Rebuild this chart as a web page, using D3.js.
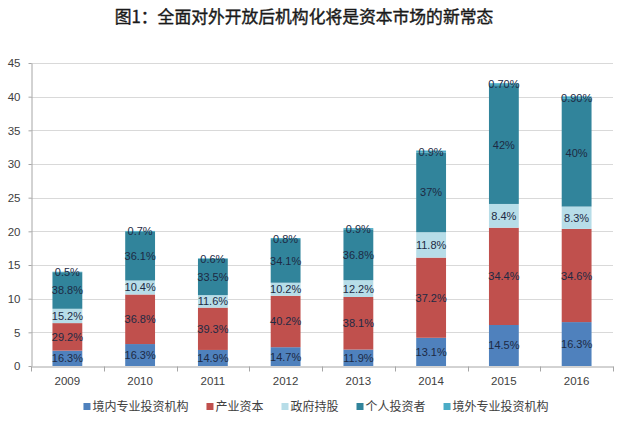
<!DOCTYPE html>
<html>
<head>
<meta charset="utf-8">
<script src="https://cdn.jsdelivr.net/npm/d3@7/dist/d3.min.js"></script>
<style>
  body { margin: 0; background: #fff; }
  svg { display: block; }
</style>
</head>
<body>
<div id="chart"></div>
<script>
// chart data
var years = ["2009", "2010", "2011", "2012", "2013", "2014", "2015", "2016"];
// bar totals (left axis)
var totals = [14, 20, 16, 19, 20.5, 32, 42, 40];
// share of each holder type in the total, in %
var series = ["境内专业投资机构", "产业资本", "政府持股", "个人投资者", "境外专业投资机构"];
var domesticInst = [16.3, 16.3, 14.9, 14.7, 11.9, 13.1, 14.5, 16.3];
var industrial   = [29.2, 36.8, 39.3, 40.2, 38.1, 37.2, 34.4, 34.6];
var government   = [15.2, 10.4, 11.6, 10.2, 12.2, 11.8, 8.4, 8.3];
var individual   = [38.8, 36.1, 33.5, 34.1, 36.8, 37, 42, 40];
var foreignInst  = [0.5, 0.7, 0.6, 0.8, 0.9, 0.9, 0.70, 0.90];
// label text as printed on the chart
var foreignLabels = ["0.5%", "0.7%", "0.6%", "0.8%", "0.9%", "0.9%", "0.70%", "0.90%"];
var yTicks = [0, 5, 10, 15, 20, 25, 30, 35, 40, 45];

var colors = ["#4f81bd", "#c0504d", "#b7dde8", "#31849b", "#4bacc6"];
var shares = [domesticInst, industrial, government, individual, foreignInst];

var width = 640, height = 429;
var plotLeft = 31, plotRight = 613, plotTop = 63, plotBottom = 366;

var svg = d3.select("#chart").append("svg")
  .attr("width", width)
  .attr("height", height);

// title
svg.append("text")
  .attr("x", 304)
  .attr("y", 23)
  .attr("text-anchor", "middle")
  .style("font-family", "'Noto Sans CJK SC'")
  .style("font-size", "16.8px")
  .attr("fill", "#1a1a1a")
  .attr("stroke", "#1a1a1a")
  .attr("stroke-width", 0.4)
  .text("图1：全面对外开放后机构化将是资本市场的新常态");

var x = d3.scaleBand()
  .domain(years)
  .range([plotLeft, plotRight])
  .paddingInner(0.59)
  .paddingOuter(0.295);

var y = d3.scaleLinear()
  .domain([0, 45])
  .range([plotBottom, plotTop]);

// gridlines
svg.append("g")
  .selectAll("line")
  .data(yTicks.slice(1))
  .join("line")
  .attr("x1", plotLeft)
  .attr("x2", plotRight)
  .attr("y1", function(d) { return Math.round(y(d)) + 0.5; })
  .attr("y2", function(d) { return Math.round(y(d)) + 0.5; })
  .attr("stroke", "#d9d9d9");

// stack the segments: each segment = total * share
var rows = years.map(function(yr, i) {
  var row = { year: yr };
  series.forEach(function(s, k) { row[s] = totals[i] * shares[k][i] / 100; });
  return row;
});
var stacked = d3.stack().keys(series)(rows);

var groups = svg.append("g")
  .selectAll("g")
  .data(stacked)
  .join("g")
  .attr("fill", function(d, k) { return colors[k]; });

groups.selectAll("rect")
  .data(function(d) { return d; })
  .join("rect")
  .attr("x", function(d) { return x(d.data.year); })
  .attr("width", x.bandwidth())
  .attr("y", function(d) { return y(d[1]); })
  .attr("height", function(d) { return y(d[0]) - y(d[1]); });

// data labels
stacked.forEach(function(layer, k) {
  svg.append("g")
    .selectAll("text")
    .data(layer)
    .join("text")
    .attr("x", function(d) { return x(d.data.year) + x.bandwidth() / 2; })
    .attr("y", function(d) { return (y(d[0]) + y(d[1])) / 2 + 4; })
    .attr("text-anchor", "middle")
    .style("font-family", "'Liberation Sans', Arial, sans-serif")
    .style("font-size", "11px")
    .attr("fill", "#1d2a44")
    .text(function(d, i) {
      return k == 4 ? foreignLabels[i] : shares[k][i] + "%";
    });
});

// y axis
var yAxis = svg.append("g")
  .attr("transform", "translate(" + (plotLeft + 0.5) + ",0)")
  .call(d3.axisLeft(y).tickValues(yTicks).tickSize(3).tickPadding(8).tickSizeOuter(0));
yAxis.select(".domain").attr("stroke", "#a6a6a6");
yAxis.selectAll(".tick line").attr("stroke", "#a6a6a6");
yAxis.selectAll("text")
  .style("font-family", "'Liberation Sans', Arial, sans-serif")
  .style("font-size", "11.5px")
  .attr("fill", "#404040");

// x axis
var xAxis = svg.append("g")
  .attr("transform", "translate(0," + (plotBottom + 0.5) + ")")
  .call(d3.axisBottom(x).tickSize(0).tickPadding(10).tickSizeOuter(0));
xAxis.select(".domain").attr("stroke", "#a6a6a6");
xAxis.selectAll("text")
  .style("font-family", "'Liberation Sans', Arial, sans-serif")
  .style("font-size", "11.5px")
  .attr("fill", "#404040");

// category separators on x axis
var step = x.step();
var seps = d3.range(years.length + 1).map(function(i) { return x(years[0]) - step * 0.295 + i * step; });
xAxis.selectAll("line.sep")
  .data(seps)
  .join("line")
  .attr("class", "sep")
  .attr("x1", function(d) { return Math.round(d) + 0.5; })
  .attr("x2", function(d) { return Math.round(d) + 0.5; })
  .attr("y1", 0)
  .attr("y2", 5)
  .attr("stroke", "#a6a6a6");

// legend
var legendY = 406;
var legend = svg.append("g");
var items = legend.selectAll("g")
  .data(series)
  .join("g");
items.append("rect")
  .attr("width", 7)
  .attr("height", 7)
  .attr("y", -3)
  .attr("fill", function(d, k) { return colors[k]; });
items.append("text")
  .attr("x", 9)
  .attr("y", 5)
  .style("font-family", "'Noto Sans CJK SC'")
  .style("font-size", "12px")
  .attr("fill", "#404040")
  .text(function(d) { return d; });

var pos = 0;
var offsets = [];
items.each(function() {
  offsets.push(pos);
  pos += 9 + d3.select(this).select("text").node().getComputedTextLength() + 18;
});
var total = pos - 18;
var startX = 316 - total / 2;
items.attr("transform", function(d, k) { return "translate(" + (startX + offsets[k]) + "," + legendY + ")"; });
</script>
</body>
</html>
